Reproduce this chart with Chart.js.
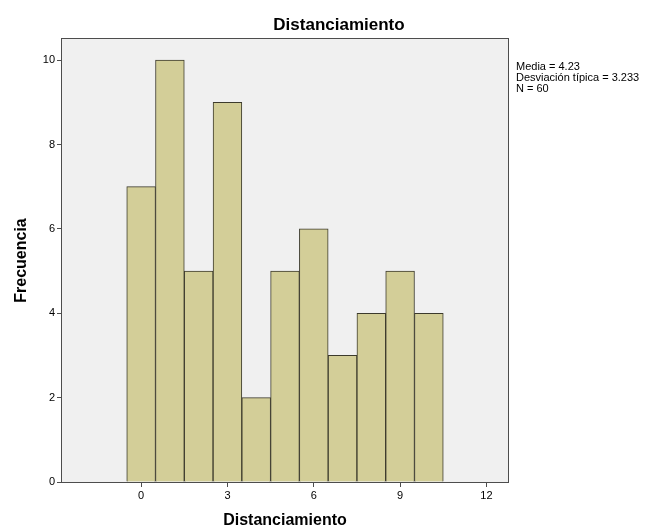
<!DOCTYPE html>
<html>
<head>
<meta charset="utf-8">
<script src="https://cdn.jsdelivr.net/npm/chart.js@4"></script>
<style>
  html, body { margin: 0; padding: 0; background: #fff; }
  #wrap { width: 650px; height: 530px; }
</style>
</head>
<body>
<div id="wrap"><canvas id="histChart" width="650" height="530"></canvas></div>
<script>
const bins = [0, 1, 2, 3, 4, 5, 6, 7, 8, 9, 10];
const counts = [7, 10, 5, 9, 2, 5, 6, 3, 4, 5, 4];
const xTicks = [0, 3, 6, 9, 12];
const yTicks = [0, 2, 4, 6, 8, 10];
const chartTitle = 'Distanciamiento';
const statsLines = ['Media = 4.23', 'Desviación típica = 3.233', 'N = 60'];

const FONT = '"Liberation Sans", Arial, sans-serif';

const plotFrame = {
    id: 'plotFrame',
    beforeDraw(chart) {
        const { ctx, chartArea: a } = chart;
        ctx.save();
        ctx.fillStyle = '#f0f0f0';
        ctx.fillRect(a.left, a.top, a.right - a.left, a.bottom - a.top);
        ctx.restore();
    },
    afterDraw(chart) {
        const { ctx, chartArea: a } = chart;
        ctx.save();
        ctx.strokeStyle = '#4d4d4d';
        ctx.lineWidth = 1;
        ctx.strokeRect(a.left - 0.5, a.top - 0.5, a.right - a.left + 1, a.bottom - a.top + 1);
        ctx.fillStyle = '#000';
        // title sits centred on the page, not on the plot
        ctx.font = 'bold 17px ' + FONT;
        ctx.textAlign = 'center';
        ctx.textBaseline = 'alphabetic';
        ctx.fillText(chartTitle, 339, 30);
        ctx.font = '11px ' + FONT;
        ctx.textAlign = 'left';
        ctx.textBaseline = 'top';
        statsLines.forEach((t, i) => ctx.fillText(t, a.right + 8, 61 + i * 11));
        ctx.restore();
    }
};

new Chart(document.getElementById('histChart'), {
    type: 'bar',
    data: {
        datasets: [{
            data: bins.map((b, i) => ({ x: b, y: counts[i] })),
            backgroundColor: '#d3ce98',
            borderColor: '#3c3a2c',
            borderWidth: 1,
            barPercentage: 1,
            categoryPercentage: 1
        }]
    },
    options: {
        responsive: false,
        animation: false,
        layout: { padding: { left: 0, right: 142, top: 39, bottom: 0 } },
        plugins: {
            legend: { display: false },
            tooltip: { enabled: false },
            title: { display: false }
        },
        scales: {
            x: {
                type: 'linear',
                offset: false,
                min: -2.75,
                max: 12.75,
                afterBuildTicks(axis) { axis.ticks = xTicks.map(v => ({ value: v })); },
                afterFit(axis) { axis.height = 48; },
                grid: { offset: false, drawOnChartArea: false, drawTicks: true, tickLength: 5, color: '#4d4d4d' },
                border: { display: false },
                ticks: { color: '#000', font: { family: FONT, size: 11 }, padding: 2, maxRotation: 0 },
                title: {
                    display: true,
                    text: 'Distanciamiento',
                    color: '#000',
                    font: { family: FONT, size: 16, weight: 'bold' },
                    padding: { top: 7, bottom: 0 }
                }
            },
            y: {
                min: 0,
                max: 10.5,
                afterBuildTicks(axis) { axis.ticks = yTicks.map(v => ({ value: v })); },
                afterFit(axis) { axis.width = 62; },
                grid: { drawOnChartArea: false, drawTicks: true, tickLength: 5, color: '#4d4d4d' },
                border: { display: false },
                ticks: { color: '#000', font: { family: FONT, size: 11 }, padding: 2 },
                title: {
                    display: true,
                    text: 'Frecuencia',
                    color: '#000',
                    font: { family: FONT, size: 16, weight: 'bold' },
                    padding: { top: 12, bottom: 0 }
                }
            }
        }
    },
    plugins: [plotFrame]
});
</script>
</body>
</html>
